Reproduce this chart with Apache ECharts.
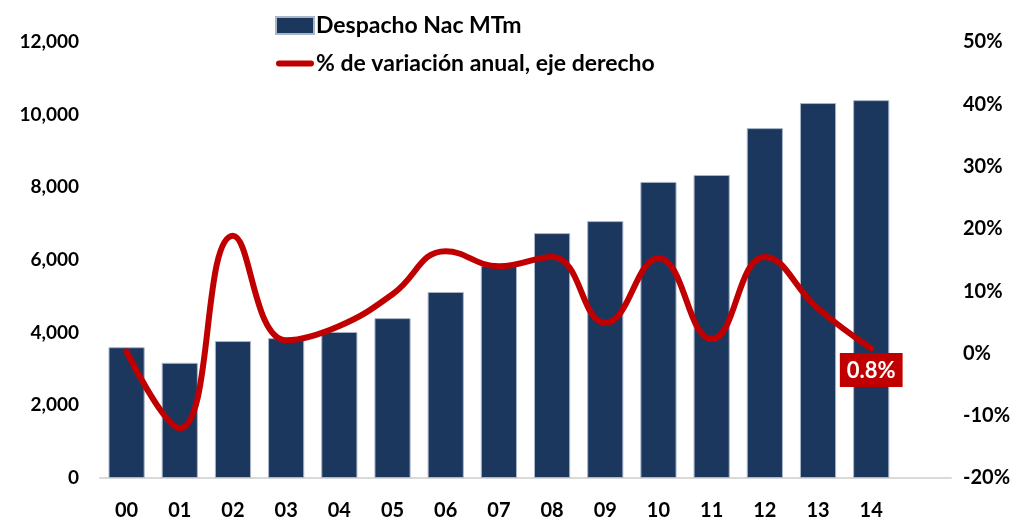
<!DOCTYPE html>
<html>
<head>
<meta charset="utf-8">
<script src="https://cdn.jsdelivr.net/npm/echarts@6/dist/echarts.min.js"></script>
<style>
  html, body { margin: 0; padding: 0; background: #fff; }
  #chart { width: 1025px; height: 521px; }
</style>
</head>
<body>
<div id="chart"></div>
<script>
// años (el eje de Excel deja un hueco al final)
const categories = ['00', '01', '02', '03', '04', '05', '06', '07', '08', '09', '10', '11', '12', '13', '14']
// Despacho Nac MTm
const despacho = [3600, 3170, 3770, 3850, 4020, 4400, 5120, 5840, 6740, 7070, 8150, 8340, 9630, 10320, 10400]
// % de variación anual
const variacion = [0.3, -12.0, 18.9, 2.1, 4.4, 9.5, 16.4, 14.0, 15.5, 4.9, 15.3, 2.3, 15.5, 7.2, 0.8]

const leftTicks = { min: 0, max: 12000, interval: 2000 }
const rightTicks = { min: -20, max: 50, interval: 10 }

const font = 'Lato, "Open Sans", sans-serif'
const chart = echarts.init(document.getElementById('chart'))

const lastIdx = variacion.length - 1
const lineData = variacion.map((v, i) => {
  if (i !== lastIdx) return v
  return {
    value: v,
    label: {
      show: true,
      position: 'bottom',
      distance: 4,
      formatter: (p) => p.value.toFixed(1) + '%',
      color: '#fff',
      backgroundColor: '#c00000',
      padding: [7, 7, 5, 7],
      fontFamily: font,
      fontWeight: 'bold',
      fontSize: 22
    }
  }
})

const option = {
  animation: false,
  grid: { left: 100, right: 74, top: 42, bottom: 43 },
  legend: {
    orient: 'vertical',
    left: 270,
    top: 9,
    itemGap: 15,
    itemWidth: 38,
    itemHeight: 17,
    textStyle: { fontFamily: font, fontWeight: 'bold', fontSize: 23, color: '#000', padding: [0, 0, 0, -3] },
    data: [
      { name: 'Despacho Nac MTm', icon: 'rect' },
      { name: '% de variación anual, eje derecho', icon: 'path://M3,0 H35 A3,3 0 0 1 35,6 H3 A3,3 0 0 1 3,0 Z' }
    ]
  },
  xAxis: {
    type: 'category',
    data: categories.concat(['']),
    axisTick: { show: false },
    axisLine: { lineStyle: { color: '#d9d9d9', width: 2 } },
    axisLabel: { color: '#000', fontFamily: font, fontWeight: 'bold', fontSize: 20, margin: 23, interval: 0 }
  },
  yAxis: [
    {
      type: 'value',
      min: leftTicks.min,
      max: leftTicks.max,
      interval: leftTicks.interval,
      splitLine: { show: false },
      axisLine: { show: false },
      axisTick: { show: false },
      axisLabel: {
        color: '#000', fontFamily: font, fontWeight: 'bold', fontSize: 19, margin: 21,
        formatter: (v) => v.toLocaleString('en-US')
      }
    },
    {
      type: 'value',
      min: rightTicks.min,
      max: rightTicks.max,
      interval: rightTicks.interval,
      splitLine: { show: false },
      axisLine: { show: false },
      axisTick: { show: false },
      axisLabel: {
        color: '#000', fontFamily: font, fontWeight: 'bold', fontSize: 20, margin: 12,
        formatter: (v) => v + '%'
      }
    }
  ],
  series: [
    {
      name: 'Despacho Nac MTm',
      type: 'bar',
      data: despacho,
      barWidth: '68%',
      itemStyle: { color: '#1b375e', borderColor: '#a9b6c8', borderWidth: 1 }
    },
    {
      name: '% de variación anual, eje derecho',
      type: 'line',
      yAxisIndex: 1,
      data: lineData,
      smooth: 0.45,
      symbol: 'circle',
      symbolSize: 1,
      showSymbol: true,
      lineStyle: { color: '#c00000', width: 6, cap: 'round' },
      itemStyle: { color: '#c00000' }
    }
  ]
}

chart.setOption(option)
</script>
</body>
</html>
